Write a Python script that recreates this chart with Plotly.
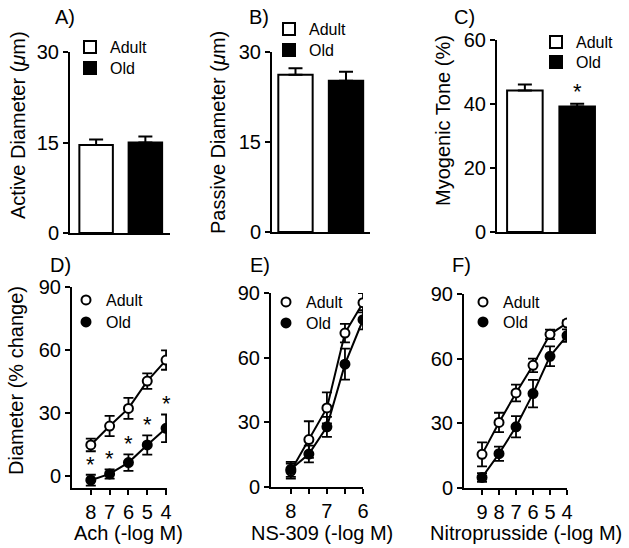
import plotly.graph_objects as go
from plotly.subplots import make_subplots

W, H = 629, 548
FONT = '"Liberation Sans", Arial, Helvetica, sans-serif'

groups = ["Adult", "Old"]

# A) - C) 棒グラフ
active_diam = [14.6, 15.0]
active_err = [0.9, 1.0]
passive_diam = [26.2, 25.2]
passive_err = [1.1, 1.5]
myo_tone = [44.2, 39.2]
myo_err = [1.9, 0.9]
myo_sig = [False, True]

# D) Ach
ach_x = [8, 7, 6, 5, 4]
ach_adult = [14.8, 23.8, 32.2, 45.2, 55.2]
ach_adult_err = [3.0, 4.8, 5.0, 3.7, 4.6]
ach_old = [-2.0, 1.0, 6.4, 14.8, 22.7]
ach_old_err = [2.6, 2.2, 3.9, 4.6, 6.6]
ach_sig = [True, True, True, True, True]

# E) NS-309
ns_x = [8, 7.5, 7, 6.5, 6]
ns_adult = [7.4, 22.0, 36.7, 71.4, 85.5]
ns_adult_err = [3.5, 8.5, 7.2, 4.3, 4.5]
ns_old = [8.2, 15.3, 27.9, 57.0, 77.6]
ns_old_err = [3.5, 3.9, 4.6, 7.2, 4.5]

# F) Nitroprusside
snp_x = [9, 8, 7, 6, 5, 4]
snp_adult = [15.6, 30.4, 44.1, 56.9, 71.3, 76.5]
snp_adult_err = [5.6, 4.5, 3.9, 3.1, 2.2, 1.2]
snp_old = [4.9, 15.9, 28.4, 43.8, 61.1, 70.7]
snp_old_err = [2.0, 3.3, 4.9, 6.4, 4.6, 2.9]


def px(x):
    return x / W


def py(y):
    return 1 - y / H


fig = make_subplots(rows=2, cols=3)

# 各パネルの位置（ピクセル）: x0, x1, ytop, ybottom
panels = {
    1: (70, 170, 52, 233),
    2: (272, 370, 52, 232),
    3: (497, 596, 40, 232),
    4: (72, 167, 287, 488),
    5: (271, 363, 293, 487),
    6: (464, 567, 294, 488),
}
for k, (x0, x1, yt, yb) in panels.items():
    fig.layout["xaxis" if k == 1 else f"xaxis{k}"].domain = [px(x0), px(x1)]
    fig.layout["yaxis" if k == 1 else f"yaxis{k}"].domain = [py(yb), py(yt)]

# 凡例の記号の中心位置（ピクセル）: Adult, Old
legend_spots = {
    1: [(90, 47), (90, 68)],
    2: [(289, 29), (289, 50)],
    3: [(556, 42), (556, 62)],
    4: [(86, 300), (86, 322)],
    5: [(286, 302), (286, 323)],
    6: [(483, 302), (483, 322)],
}
legend_layout = {}
n_leg = 0


def next_legend(cx, cy):
    global n_leg
    n_leg += 1
    name = "legend" if n_leg == 1 else f"legend{n_leg}"
    legend_layout[name] = dict(
        x=px(cx - 20), y=py(cy), xanchor="left", yanchor="middle",
        bgcolor="rgba(0,0,0,0)", itemwidth=30,
        font=dict(size=16, color="black", family=FONT),
    )
    return name


bar_colors = ["white", "black"]


def add_bars(vals, errs, col):
    for i, g in enumerate(groups):
        fig.add_trace(go.Bar(
            x=[i + 1], y=[vals[i]], name=g, width=0.68,
            marker=dict(color=bar_colors[i], line=dict(color="black", width=2)),
            error_y=dict(type="data", symmetric=False, array=[errs[i]], arrayminus=[0],
                         color="black", thickness=2, width=7),
            legend=next_legend(*legend_spots[col][i]), showlegend=True,
        ), row=1, col=col)


add_bars(active_diam, active_err, 1)
add_bars(passive_diam, passive_err, 2)
add_bars(myo_tone, myo_err, 3)


def add_curves(xs, adult, adult_err, old, old_err, col):
    styles = [
        ("Adult", adult, adult_err, dict(color="white", size=9, line=dict(color="black", width=2))),
        ("Old", old, old_err, dict(color="black", size=9, line=dict(color="black", width=2))),
    ]
    for name, ys, es, mk in styles:
        fig.add_trace(go.Scatter(
            x=xs, y=ys, mode="lines+markers", name=name,
            line=dict(color="black", width=2), marker=mk,
            error_y=dict(type="data", array=es, color="black", thickness=1.8, width=5),
            showlegend=False,
        ), row=2, col=col)
    for i, (name, ys, es, mk) in enumerate(styles):
        fig.add_trace(go.Scatter(
            x=[None], y=[None], mode="markers", name=name, marker=mk,
            legend=next_legend(*legend_spots[col + 3][i]), showlegend=True,
        ), row=2, col=col)


add_curves(ach_x, ach_adult, ach_adult_err, ach_old, ach_old_err, 1)
add_curves(ns_x, ns_adult, ns_adult_err, ns_old, ns_old_err, 2)
add_curves(snp_x, snp_adult, snp_adult_err, snp_old, snp_old_err, 3)

axis_style = dict(showline=True, linecolor="black", linewidth=2, ticks="outside",
                  ticklen=5, tickwidth=2, tickcolor="black", showgrid=False,
                  zeroline=False, automargin=False,
                  tickfont=dict(size=20, color="black", family=FONT))

fig.update_xaxes(**axis_style)
fig.update_yaxes(**axis_style)

# 棒グラフのx軸
fig.update_xaxes(showticklabels=False, ticks="", row=1)
fig.update_xaxes(range=[0.47, 2.5], row=1, col=1)
fig.update_xaxes(range=[0.535, 2.475], row=1, col=2)
fig.update_xaxes(range=[0.467, 2.36], row=1, col=3)
fig.update_yaxes(range=[0, 30], tickvals=[0, 15, 30], row=1, col=1)
fig.update_yaxes(range=[0, 30], tickvals=[0, 15, 30], row=1, col=2)
fig.update_yaxes(range=[0, 60], tickvals=[0, 20, 40, 60], row=1, col=3)

fig.update_xaxes(range=[9, 3.95], tickvals=ach_x, row=2, col=1)
fig.update_xaxes(range=[8.55, 6], tickvals=ns_x, ticktext=["8", "", "7", "", "6"], row=2, col=2)
fig.update_xaxes(range=[10.06, 4], tickvals=snp_x, row=2, col=3)
fig.update_yaxes(range=[-5.7, 90], tickvals=[0, 30, 60, 90], row=2, col=1)
fig.update_yaxes(range=[0, 90], tickvals=[0, 30, 60, 90], row=2, col=2)
fig.update_yaxes(range=[0, 90], tickvals=[0, 30, 60, 90], row=2, col=3)

annotations = []
# パネルラベル
for txt, x, y in [("A)", 53, 17), ("B)", 247, 17), ("C)", 452, 17),
                  ("D)", 48, 265), ("E)", 248, 265), ("F)", 450, 265)]:
    annotations.append(dict(text=txt, x=px(x), y=py(y), xref="paper", yref="paper",
                            xanchor="left", yanchor="middle", showarrow=False,
                            font=dict(size=20, color="black", family=FONT)))
# y軸タイトル
for txt, x, y in [("Active Diameter (<i>μ</i>m)", 18, 125),
                  ("Passive Diameter (<i>μ</i>m)", 218, 133),
                  ("Myogenic Tone (%)", 443, 121),
                  ("Diameter (% change)", 16, 381)]:
    annotations.append(dict(text=txt, x=px(x), y=py(y), xref="paper", yref="paper",
                            xanchor="center", yanchor="middle", textangle=-90, showarrow=False,
                            font=dict(size=20, color="black", family=FONT)))
# x軸タイトル
for txt, x in [("Ach (-log M)", 128), ("NS-309 (-log M)", 322), ("Nitroprusside (-log M)", 526)]:
    annotations.append(dict(text=txt, x=px(x), y=py(533), xref="paper", yref="paper",
                            xanchor="center", yanchor="middle", showarrow=False,
                            font=dict(size=20, color="black", family=FONT)))
# 有意差の印
for i, s in enumerate(myo_sig):
    if s:
        annotations.append(dict(text="*", x=i + 1, y=myo_tone[i] + myo_err[i], xref="x3", yref="y3",
                                yanchor="bottom", showarrow=False, yshift=-2,
                                font=dict(size=22, color="black", family=FONT)))
for i, s in enumerate(ach_sig):
    if s:
        annotations.append(dict(text="*", x=ach_x[i], y=ach_old[i] + ach_old_err[i], xref="x4", yref="y4",
                                yanchor="bottom", showarrow=False, yshift=-4,
                                font=dict(size=22, color="black", family=FONT)))

fig.update_layout(
    template="none",
    width=W, height=H,
    margin=dict(l=0, r=0, t=0, b=0, pad=0),
    plot_bgcolor="white", paper_bgcolor="white",
    font=dict(family=FONT, color="black"),
    barmode="overlay",
    annotations=annotations,
    **legend_layout,
)

# ページ既定の余白をなくす
fig.write_html("out.html", config={"displayModeBar": False},
               post_script="document.body.style.margin='0';")
